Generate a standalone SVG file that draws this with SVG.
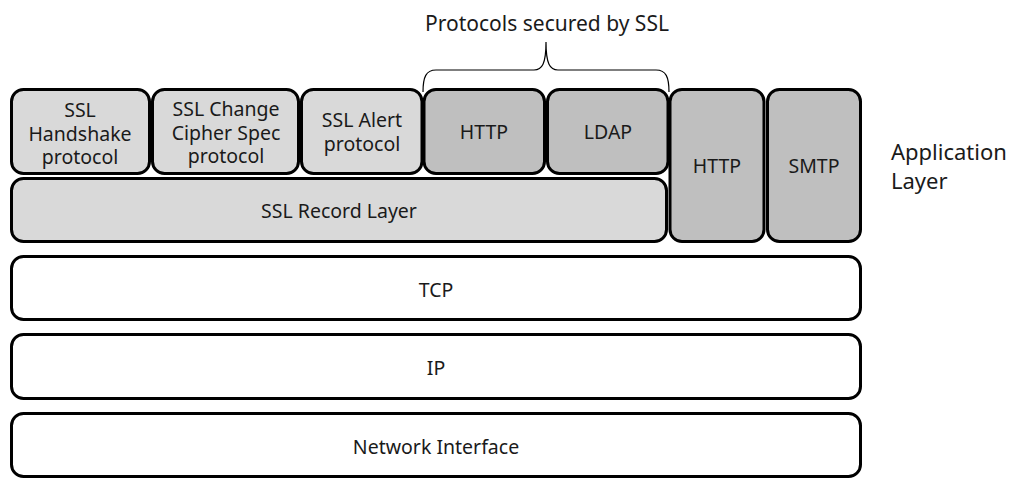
<svg xmlns="http://www.w3.org/2000/svg" width="1036" height="479" viewBox="0 0 1036 479">
<style>
.box{stroke:#000;stroke-width:3}
.l{fill:#d9d9d9}
.d{fill:#bfbfbf}
.w{fill:#fff}
text{font-family:"Noto Sans","Open Sans",sans-serif;font-size:19.5px;fill:#1a1a1a;text-anchor:middle}
.brace{fill:none;stroke:#000;stroke-width:1.2}
.app{font-size:22px;text-anchor:start}
</style>
<rect width="1036" height="479" fill="#fff"/>
<g id="connectors">
<path class="brace" d="M423,92 C423,77 426,70 436,70 L534,70 C542,70 546,64 546,42 C546,64 550,70 558,70 L656,70 C666,70 669,77 669,92"/>
</g>
<text id="title" x="547" y="31" style="font-size:21px">Protocols secured by SSL</text>
<g id="handshake"><rect class="box l" x="11.5" y="89.5" width="138" height="84" rx="12"/><text x="80" y="117">SSL</text><text x="80" y="141">Handshake</text><text x="80" y="164">protocol</text></g>
<g id="changecipher"><rect class="box l" x="152.5" y="89.5" width="146" height="84" rx="12"/><text x="226" y="116">SSL Change</text><text x="226" y="140">Cipher Spec</text><text x="226" y="163">protocol</text></g>
<g id="alert"><rect class="box l" x="301.5" y="89.5" width="120.5" height="84" rx="12"/><text x="362" y="127">SSL Alert</text><text x="362" y="151">protocol</text></g>
<g id="http-ssl"><rect class="box d" x="424" y="89.5" width="120.5" height="84" rx="12"/><text x="484" y="139">HTTP</text></g>
<g id="ldap"><rect class="box d" x="547.5" y="89.5" width="120.5" height="84" rx="12"/><text x="608" y="139">LDAP</text></g>
<g id="record"><rect class="box l" x="11.5" y="178.5" width="655" height="63" rx="12"/><text x="339" y="218">SSL Record Layer</text></g>
<g id="http"><rect class="box d" x="670" y="89.5" width="94" height="152" rx="12"/><text x="717" y="173">HTTP</text></g>
<g id="smtp"><rect class="box d" x="767.5" y="89.5" width="93" height="152" rx="12"/><text x="814" y="173">SMTP</text></g>
<g id="tcp"><rect class="box w" x="11.5" y="256.5" width="849" height="63" rx="12"/><text x="436" y="297">TCP</text></g>
<g id="ip"><rect class="box w" x="11.5" y="334.5" width="849" height="64" rx="12"/><text x="436" y="375">IP</text></g>
<g id="netif"><rect class="box w" x="11.5" y="413.5" width="849" height="63" rx="12"/><text x="436" y="454">Network Interface</text></g>
<g id="applabel"><text class="app" x="891" y="160">Application</text><text class="app" x="891" y="189">Layer</text></g>
</svg>
